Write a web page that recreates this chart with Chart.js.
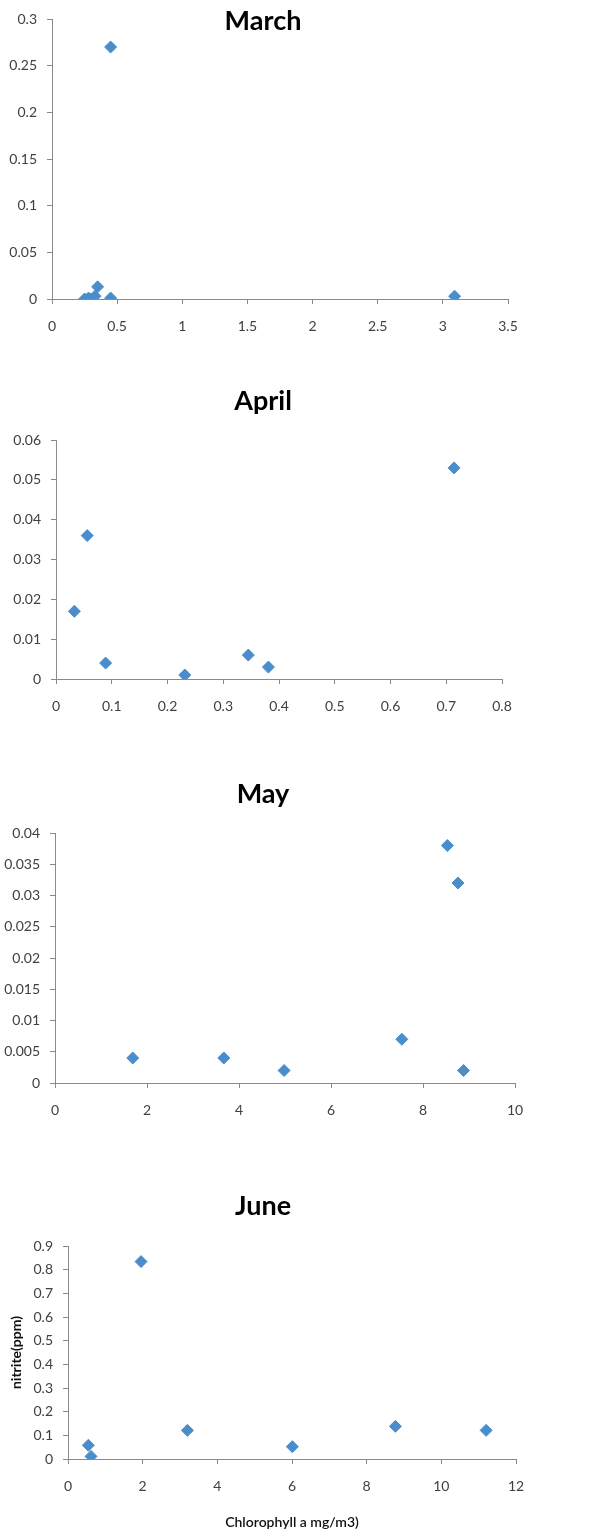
<!DOCTYPE html>
<html>
<head>
<meta charset="utf-8">
<script src="https://cdn.jsdelivr.net/npm/chart.js@4.4.0/dist/chart.umd.min.js"></script>
<style>
body { margin: 0; background: #fff; width: 602px; height: 1535px; position: relative; overflow: hidden; }
canvas { position: absolute; left: 0; }
</style>
</head>
<body>
<canvas id="marchChart" width="602" height="370" style="top:0px"></canvas>
<canvas id="aprilChart" width="602" height="390" style="top:370px"></canvas>
<canvas id="mayChart" width="602" height="390" style="top:760px"></canvas>
<canvas id="juneChart" width="602" height="385" style="top:1150px"></canvas>
<script>
// chlorophyll a (x) vs nitrite (y)
var marchX = [0.25, 0.28, 0.30, 0.33, 0.35, 0.45, 0.45, 3.09];
var marchY = [0, 0.001, 0, 0.003, 0.013, 0.001, 0.27, 0.003];

var aprilX = [0.033, 0.056, 0.089, 0.231, 0.345, 0.381, 0.714];
var aprilY = [0.017, 0.036, 0.004, 0.001, 0.006, 0.003, 0.053];

var mayX = [1.69, 3.67, 4.98, 7.54, 8.53, 8.76, 8.88];
var mayY = [0.004, 0.004, 0.002, 0.007, 0.038, 0.032, 0.002];

var juneX = [0.545, 0.617, 1.957, 3.2, 6.01, 8.77, 11.2];
var juneY = [0.058, 0.011, 0.834, 0.121, 0.052, 0.138, 0.121];

var marchTicks = {xMax: 3.5, xStep: 0.5, yMax: 0.3, yStep: 0.05};
var aprilTicks = {xMax: 0.8, xStep: 0.1, yMax: 0.06, yStep: 0.01};
var mayTicks = {xMax: 10, xStep: 2, yMax: 0.04, yStep: 0.005};
var juneTicks = {xMax: 12, xStep: 2, yMax: 0.9, yStep: 0.1};

var xTitle = 'Chlorophyll a mg/m3)';
var yTitle = 'nitrite(ppm)';

var markerColor = '#4a8dcb';
var axisColor = '#8a8a8a';
var labelColor = '#404040';
var fontFamily = 'Lato, "Open Sans", sans-serif';

function toPoints(xs, ys) {
    var pts = [];
    for (var i = 0; i < xs.length; i++) pts.push({x: xs[i], y: ys[i]});
    return pts;
}

function fmt(v) {
    return String(parseFloat(v.toFixed(4)));
}

// month title drawn at a fixed place, like the excel chart title
var monthTitle = {
    id: 'monthTitle',
    afterDraw: function(chart, args, opts) {
        var ctx = chart.ctx;
        ctx.save();
        ctx.font = 'bold 27px ' + fontFamily;
        ctx.fillStyle = '#000';
        ctx.textAlign = 'center';
        ctx.textBaseline = 'alphabetic';
        ctx.fillText(opts.text, opts.x, opts.y);
        ctx.restore();
    }
};

function makeChart(id, xs, ys, t, box, axisTitles) {
    var ctx = document.getElementById(id).getContext('2d');
    return new Chart(ctx, {
        type: 'scatter',
        data: {
            datasets: [{
                data: toPoints(xs, ys),
                pointStyle: 'rectRot',
                pointRadius: 6,
                backgroundColor: markerColor,
                borderColor: markerColor,
                borderWidth: 1
            }]
        },
        plugins: [monthTitle],
        options: {
            responsive: false,
            animation: false,
            layout: {
                padding: {left: 0, right: box.right, top: box.top, bottom: box.bottom}
            },
            plugins: {
                legend: {display: false},
                tooltip: {enabled: false},
                monthTitle: {text: box.title, x: 263, y: box.titleY}
            },
            scales: {
                x: {
                    type: 'linear',
                    min: 0,
                    max: t.xMax,
                    afterFit: function(s) { s.height = box.xHeight; },
                    grid: {display: true, drawOnChartArea: false, drawTicks: true, tickLength: 5, color: axisColor},
                    border: {color: axisColor},
                    ticks: {stepSize: t.xStep, padding: 14, color: labelColor, font: {family: fontFamily, size: 14}, callback: fmt, maxRotation: 0},
                    title: {
                        display: !!axisTitles,
                        text: xTitle,
                        color: '#111',
                        font: {family: fontFamily, size: 14, weight: '600'},
                        padding: {top: 0, bottom: 0}
                    }
                },
                y: {
                    type: 'linear',
                    min: 0,
                    max: t.yMax,
                    afterFit: function(s) { s.width = box.left; },
                    grid: {display: true, drawOnChartArea: false, drawTicks: true, tickLength: 5, color: axisColor},
                    border: {color: axisColor},
                    ticks: {stepSize: t.yStep, padding: 10, color: labelColor, font: {family: fontFamily, size: 14}, callback: fmt},
                    title: {
                        display: !!axisTitles,
                        text: yTitle,
                        color: '#111',
                        font: {family: fontFamily, size: 14, weight: 'bold'},
                        padding: {top: 8, bottom: 0}
                    }
                }
            }
        }
    });
}

makeChart('marchChart', marchX, marchY, marchTicks,
    {left: 52, right: 94, top: 19, bottom: 31, xHeight: 40, title: 'March', titleY: 30});
makeChart('aprilChart', aprilX, aprilY, aprilTicks,
    {left: 56, right: 100, top: 70, bottom: 41, xHeight: 40, title: 'April', titleY: 40});
makeChart('mayChart', mayX, mayY, mayTicks,
    {left: 55, right: 87, top: 73, bottom: 27, xHeight: 40, title: 'May', titleY: 43});
makeChart('juneChart', juneX, juneY, juneTicks,
    {left: 68, right: 86, top: 96, bottom: 4, xHeight: 72, title: 'June', titleY: 65}, true);
</script>
</body>
</html>
